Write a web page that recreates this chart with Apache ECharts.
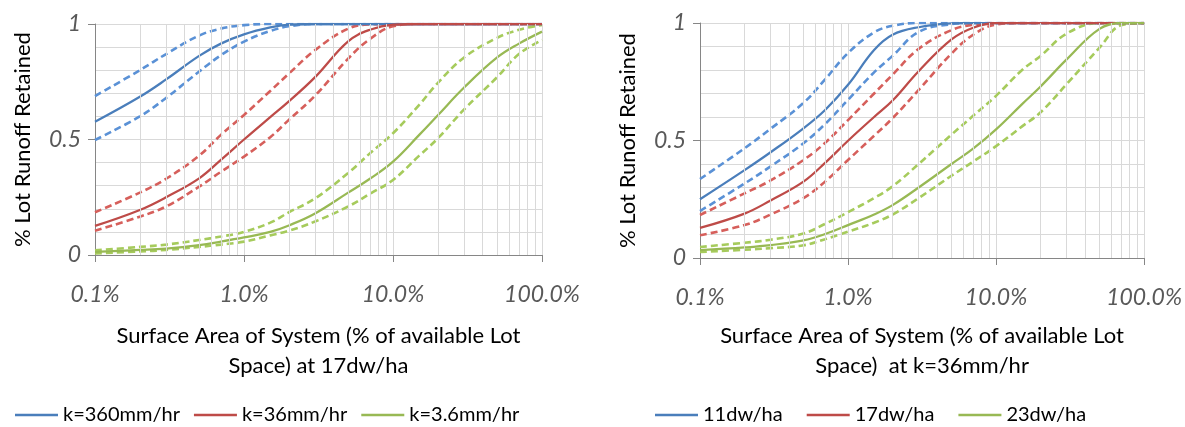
<!DOCTYPE html>
<html><head><meta charset="utf-8">
<script src="https://cdn.jsdelivr.net/npm/echarts@6/dist/echarts.min.js"></script>
<style>html,body{margin:0;padding:0;background:#fff}#c{width:1185px;height:427px}</style>
</head><body><div id="c"></div>
<script>
// Surface area of system (% of available lot space)
const xPct = [0.1,0.2,0.3,0.5,0.7,1,1.5,2,3,5,7,10,15,20,30,50,70,100];
const xDecades = [0.1,1,10,100];
const xTickLabels = ['0.1%','1.0%','10.0%','100.0%'];
const minorGridX = [0.2,0.3,0.4,0.5,0.6,0.7,0.8,0.9,2,3,4,5,6,7,8,9,20,30,40,50,60,70,80,90];

// Left panel: at 17dw/ha
const leftNames = ['k=360mm/hr','k=36mm/hr','k=3.6mm/hr'];
const L_k360 = [0.577,0.685,0.76,0.862,0.915,0.955,0.985,0.997,1,1,1,1,1,1,1,1,1,1];
const L_k360_hi = [0.688,0.80,0.87,0.95,0.98,0.995,1,1,1,1,1,1,1,1,1,1,1,1];
const L_k360_lo = [0.498,0.60,0.68,0.794,0.865,0.924,0.97,0.99,1,1,1,1,1,1,1,1,1,1];
const L_k36 = [0.126,0.195,0.25,0.332,0.412,0.50,0.597,0.665,0.77,0.925,0.975,0.997,1,1,1,1,1,1];
const L_k36_hi = [0.185,0.27,0.33,0.43,0.52,0.606,0.71,0.785,0.887,0.98,0.998,1,1,1,1,1,1,1];
const L_k36_lo = [0.105,0.166,0.21,0.296,0.36,0.426,0.51,0.585,0.69,0.85,0.935,0.99,1,1,1,1,1,1];
const L_k3_6 = [0.014,0.022,0.028,0.043,0.058,0.076,0.10,0.128,0.18,0.27,0.33,0.404,0.52,0.605,0.725,0.855,0.915,0.967];
const L_k3_6_hi = [0.02,0.035,0.045,0.065,0.08,0.10,0.14,0.185,0.245,0.355,0.44,0.527,0.65,0.745,0.855,0.94,0.975,0.996];
const L_k3_6_lo = [0.007,0.015,0.022,0.035,0.045,0.058,0.085,0.105,0.145,0.21,0.265,0.325,0.43,0.505,0.63,0.77,0.87,0.931];

// Right panel: at k=36mm/hr
const rightNames = ['11dw/ha','17dw/ha','23dw/ha'];
const R_11 = [0.25,0.374,0.45,0.552,0.63,0.737,0.885,0.95,0.982,0.998,1,1,1,1,1,1,1,1];
const R_11_hi = [0.336,0.467,0.55,0.66,0.76,0.872,0.96,0.988,1,1,1,1,1,1,1,1,1,1];
const R_11_lo = [0.20,0.317,0.39,0.488,0.57,0.673,0.79,0.86,0.962,0.995,1,1,1,1,1,1,1,1];
const R_17 = [0.128,0.189,0.245,0.325,0.405,0.499,0.60,0.67,0.795,0.93,0.98,1,1,1,1,1,1,1];
const R_17_hi = [0.183,0.275,0.33,0.417,0.49,0.587,0.70,0.78,0.89,0.97,0.993,1,1,1,1,1,1,1];
const R_17_lo = [0.097,0.14,0.185,0.255,0.325,0.417,0.52,0.595,0.715,0.87,0.95,0.993,1,1,1,1,1,1];
const R_23 = [0.033,0.045,0.055,0.075,0.102,0.14,0.185,0.225,0.30,0.40,0.465,0.547,0.655,0.73,0.845,0.975,1,1];
const R_23_hi = [0.047,0.065,0.078,0.104,0.145,0.195,0.255,0.305,0.40,0.525,0.605,0.69,0.80,0.86,0.955,1,1,1];
const R_23_lo = [0.026,0.035,0.042,0.054,0.08,0.112,0.15,0.185,0.255,0.35,0.41,0.476,0.56,0.62,0.74,0.895,0.99,1];

const solidColors = ['#4A7EBB','#BE4B48','#98B954'];
const dashColors = ['#5A91D6','#D65F5B','#A6CB5C'];
const FONT = 'Lato';

function pairs(ys){ return xPct.map((x,i)=>[x, ys[i]]); }

function xAxisCfg(gi, title, gap){
  return {
    type:'log', logBase:10, gridIndex:gi, min:0.1, max:100,
    axisLine:{show:true, lineStyle:{color:'#868686', width:1}},
    axisTick:{show:true, length:7, lineStyle:{color:'#868686'}},
    axisLabel:{margin:28, color:'#595959', fontStyle:'italic', fontFamily:FONT, fontSize:23,
      formatter:v=>{const i=xDecades.findIndex(d=>Math.abs(Math.log10(d)-Math.log10(v))<1e-6);return i>=0?xTickLabels[i]:'';}},
    splitLine:{show:true, lineStyle:{color:'#d9d9d9', width:1}},
    minorTick:{show:false}, minorSplitLine:{show:false},
    name:title, nameLocation:'middle', nameGap:gap,
    nameTextStyle:{color:'#000', fontFamily:FONT, fontSize:22, lineHeight:30, align:'center', verticalAlign:'top'}
  };
}
function yAxisCfg(gi){
  return {
    type:'value', gridIndex:gi, min:0, max:1, interval:0.5,
    axisLine:{show:true, lineStyle:{color:'#868686', width:1}},
    axisTick:{show:true, length:7, lineStyle:{color:'#868686'}},
    axisLabel:{margin:14, color:'#595959', fontStyle:'italic', fontFamily:FONT, fontSize:23},
    splitLine:{show:true, lineStyle:{color:'#d9d9d9', width:1}},
    minorTick:{show:false, splitNumber:5},
    minorSplitLine:{show:true, lineStyle:{color:'#d9d9d9', width:1}},
    name:'% Lot Runoff Retained', nameLocation:'middle', nameGap:61,
    nameTextStyle:{color:'#000', fontFamily:FONT, fontSize:22}
  };
}

const series = [];
function addPanel(gi, names, sets){
  series.push({type:'line', xAxisIndex:gi, yAxisIndex:gi, data:[], silent:true, z:1,
    markLine:{silent:true, symbol:['none','none'], animation:false, label:{show:false},
      lineStyle:{color:'#d9d9d9', width:1, type:'solid'},
      data:minorGridX.map(v=>({xAxis:v}))}});
  sets.forEach((s,k)=>{
    [[s[1],'hi'],[s[2],'lo']].forEach(([ys,tag])=>{
      series.push({type:'line', name:names[k]+' '+tag, xAxisIndex:gi, yAxisIndex:gi, data:pairs(ys),
        symbol:'none', smooth:0.4, z:3,
        lineStyle:{color:dashColors[k], width:2.6, type:[7,4]}, itemStyle:{color:dashColors[k]}});
    });
    series.push({type:'line', name:names[k], xAxisIndex:gi, yAxisIndex:gi, data:pairs(s[0]),
      symbol:'none', smooth:0.4, z:4,
      lineStyle:{color:solidColors[k], width:2.25}, itemStyle:{color:solidColors[k]}});
  });
}
addPanel(0, leftNames, [[L_k360,L_k360_hi,L_k360_lo],[L_k36,L_k36_hi,L_k36_lo],[L_k3_6,L_k3_6_hi,L_k3_6_lo]]);
addPanel(1, rightNames, [[R_11,R_11_hi,R_11_lo],[R_17,R_17_hi,R_17_lo],[R_23,R_23_hi,R_23_lo]]);

const legendText = {color:'#000', fontFamily:FONT, fontSize:20};
const option = {
  animation:false,
  backgroundColor:'#fff',
  grid:[
    {left:95, right:643, top:24, bottom:172},
    {left:700, right:39, top:23, bottom:169}
  ],
  xAxis:[
    xAxisCfg(0, 'Surface Area of System (% of available Lot\nSpace) at 17dw/ha', 66),
    xAxisCfg(1, 'Surface Area of System (% of available Lot\nSpace)  at k=36mm/hr', 63)
  ],
  yAxis:[yAxisCfg(0), yAxisCfg(1)],
  legend:[
    {data:leftNames, left:10, top:400, icon:'rect', itemWidth:43, itemHeight:2.5, itemGap:14, textStyle:legendText, selectedMode:false},
    {data:rightNames, left:650, top:400, icon:'rect', itemWidth:43, itemHeight:2.5, itemGap:24, textStyle:legendText, selectedMode:false}
  ],
  series:series
};
const chart = echarts.init(document.getElementById('c'), null, {renderer:'canvas'});
chart.setOption(option);
</script></body></html>
